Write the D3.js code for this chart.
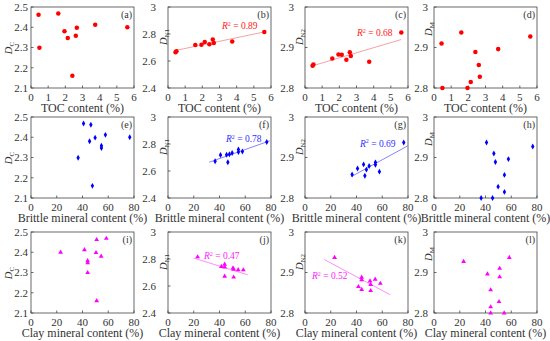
<!DOCTYPE html>
<html>
<head>
<meta charset="utf-8">
<script src="https://cdn.jsdelivr.net/npm/d3@7"></script>
<style>
body { margin: 0; background: #fff; }
text { font-family: "Liberation Serif", "Times New Roman", serif; fill: #333; }
</style>
</head>
<body>
<div id="chart"></div>
<script>
var width = 550, height = 341;

// 10 shale samples, one value per sample
var toc     = [0.44, 0.49, 1.59, 1.95, 2.14, 2.41, 2.61, 2.67, 3.74, 5.61];
var brittle = [46.5, 36.6, 40.8, 45.5, 54.7, 47.7, 54.7, 49.8, 57.8, 76.7];
var clay    = [51.0, 44.0, 58.5, 54.5, 44.0, 51.0, 44.0, 50.5, 41.5, 23.0];

var dC  = [2.462, 2.299, 2.468, 2.380, 2.347, 2.160, 2.358, 2.398, 2.412, 2.400];
var dN1 = [2.665, 2.672, 2.719, 2.720, 2.740, 2.724, 2.760, 2.733, 2.744, 2.815];
var dN2 = [2.855, 2.858, 2.873, 2.883, 2.882, 2.870, 2.888, 2.879, 2.865, 2.937];
var dM  = [2.910, 2.800, 2.937, 2.800, 2.815, 2.889, 2.857, 2.828, 2.896, 2.927];

var xTicksToc = [0, 1, 2, 3, 4, 5, 6];
var xTicksMineral = [0, 20, 40, 60, 80];
var yTicksC = [2.1, 2.2, 2.3, 2.4, 2.5];
var yTicksN1 = [2.4, 2.6, 2.8, 3];
var yTicksN2 = [2.8, 2.9, 3];
var yTicksM = [2.8, 2.9, 3];

var xTitles = ["TOC content (%)", "Brittle mineral content (%)", "Clay mineral content (%)"];
var panelLetters = ["a","b","c","d","e","f","g","h","i","j","k","l"];

// fitted lines: panel index -> [x from, x to], R² text
var fitPanels = [1, 2, 5, 6, 9, 10];
var fitRanges = [[0.35, 5.65], [0.6, 5.6], [32, 79], [36, 80], [20, 62], [15, 66]];
var fitR2 = ["0.89", "0.68", "0.78", "0.69", "0.47", "0.52"];

// layout
var colLeft = [31, 168, 305, 434];
var rowTop = [7, 117, 232];
var pw = 103, ph = 81;
var tickRight = [3, 12, 11, 6];
var ylabX = [19, 1.5, 2.5, 2.5];
var ylabY = [41, 30, 30, 22];
var r2Pos = [[54, 22], [52, 29], [58, 25], [55, 29.5], [36, 27], [7, 47]];

var rows = [
  { xs: toc, ticks: xTicksToc, dom: [0, 6], color: "#ff0000", line: "#f5a3a3", txt: "#ff2020", shape: d3.symbolCircle, size: 16 },
  { xs: brittle, ticks: xTicksMineral, dom: [0, 80], color: "#0000ff", line: "#8585ff", txt: "#3030ff", shape: d3.symbolDiamond, size: 10 },
  { xs: clay, ticks: xTicksMineral, dom: [0, 80], color: "#ff00ff", line: "#ff8cff", txt: "#ff20ff", shape: d3.symbolTriangle, size: 10 }
];
var cols = [
  { ys: dC, ticks: yTicksC, dom: [2.1, 2.5], sub: "C" },
  { ys: dN1, ticks: yTicksN1, dom: [2.4, 3], sub: "N1" },
  { ys: dN2, ticks: yTicksN2, dom: [2.8, 3], sub: "N2" },
  { ys: dM, ticks: yTicksM, dom: [2.8, 3], sub: "M" }
];

function linfit(xs, ys) {
  var mx = d3.mean(xs), my = d3.mean(ys);
  var sxy = d3.sum(xs, function(x, i) { return (x - mx) * (ys[i] - my); });
  var sxx = d3.sum(xs, function(x) { return (x - mx) * (x - mx); });
  var b = sxy / sxx;
  return { b: b, a: my - b * mx };
}

var svg = d3.select("#chart").append("svg")
  .attr("width", width)
  .attr("height", height);

rows.forEach(function(row, ri) {
  cols.forEach(function(col, ci) {
    var idx = ri * 4 + ci;
    var x0 = colLeft[ci], y0 = rowTop[ri];
    var x = d3.scaleLinear().domain(row.dom).range([x0, x0 + pw]);
    var y = d3.scaleLinear().domain(col.dom).range([y0 + ph, y0]);
    var g = svg.append("g");

    // frame
    g.append("rect")
      .attr("x", x0).attr("y", y0)
      .attr("width", pw).attr("height", ph)
      .attr("fill", "none")
      .attr("stroke", "#444")
      .attr("stroke-width", 0.8);

    // x ticks (inward)
    g.selectAll(".xt").data(row.ticks).enter().append("line")
      .attr("x1", function(d) { return x(d); })
      .attr("x2", function(d) { return x(d); })
      .attr("y1", y0 + ph).attr("y2", y0 + ph - 2.5)
      .attr("stroke", "#444").attr("stroke-width", 0.8);
    g.selectAll(".xl").data(row.ticks).enter().append("text")
      .attr("x", function(d) { return x(d); })
      .attr("y", y0 + ph + 12.5)
      .attr("text-anchor", "middle")
      .attr("font-size", "11px")
      .text(function(d) { return d; });

    // y ticks (inward)
    g.selectAll(".yt").data(col.ticks).enter().append("line")
      .attr("x1", x0).attr("x2", x0 + 2.5)
      .attr("y1", function(d) { return y(d); })
      .attr("y2", function(d) { return y(d); })
      .attr("stroke", "#444").attr("stroke-width", 0.8);
    g.selectAll(".yl").data(col.ticks).enter().append("text")
      .attr("x", x0 - tickRight[ci])
      .attr("y", function(d) { return y(d); })
      .attr("dy", "0.35em")
      .attr("text-anchor", "end")
      .attr("font-size", "11px")
      .text(function(d) { return d; });

    // axis titles
    g.append("text")
      .attr("x", x0 + pw / 2)
      .attr("y", y0 + ph + 24)
      .attr("text-anchor", "middle")
      .attr("font-size", "12px")
      .text(xTitles[ri]);

    var yl = g.append("text")
      .attr("transform", "translate(" + (x0 - ylabX[ci]) + "," + (y0 + ylabY[ci]) + ") rotate(-90)")
      .attr("text-anchor", "middle")
      .attr("font-size", "10.5px");
    yl.append("tspan").attr("font-style", "italic").text("D");
    yl.append("tspan").attr("font-size", "7px").attr("dy", "2").text(col.sub);

    // panel letter
    g.append("text")
      .attr("x", x0 + pw - 2)
      .attr("y", y0 + 11)
      .attr("text-anchor", "end")
      .attr("font-size", "10px")
      .text("(" + panelLetters[idx] + ")");

    // trend line
    var fi = fitPanels.indexOf(idx);
    if (fi >= 0) {
      var f = linfit(row.xs, col.ys);
      var xr = fitRanges[fi];
      g.append("line")
        .attr("x1", x(xr[0])).attr("y1", y(f.a + f.b * xr[0]))
        .attr("x2", x(xr[1])).attr("y2", y(f.a + f.b * xr[1]))
        .attr("stroke", row.line)
        .attr("stroke-width", 1);
      var rt = g.append("text")
        .attr("x", x0 + r2Pos[fi][0])
        .attr("y", y0 + r2Pos[fi][1])
        .attr("font-size", "9.5px")
        .style("fill", row.txt);
      rt.append("tspan").attr("font-style", "italic").text("R");
      rt.append("tspan").attr("font-size", "6px").attr("dy", "-3.5").text("2");
      rt.append("tspan").attr("dy", "3.5").text(" = " + fitR2[fi]);
    }

    // points
    var sym = d3.symbol().type(row.shape).size(row.size);
    g.selectAll(".pt").data(row.xs).enter().append("path")
      .attr("d", sym)
      .attr("transform", function(d, i) { return "translate(" + x(d) + "," + y(col.ys[i]) + ")"; })
      .attr("fill", row.color);
  });
});
</script>
</body>
</html>
